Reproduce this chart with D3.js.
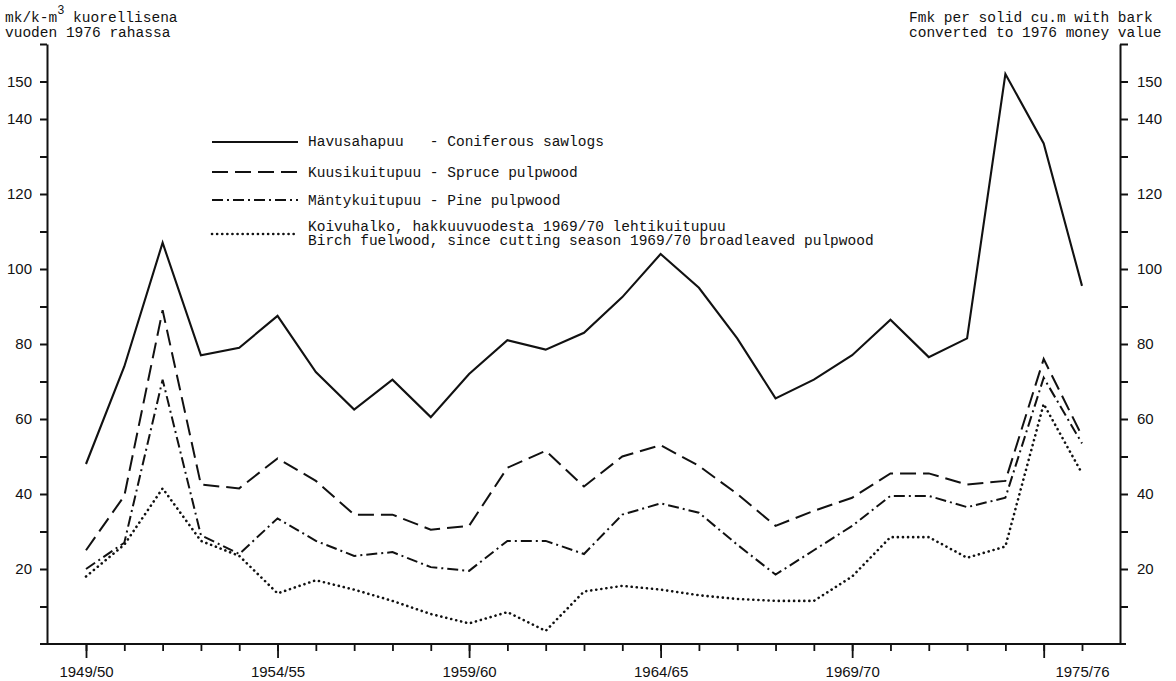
<!DOCTYPE html>
<html>
<head>
<meta charset="utf-8">
<script src="https://cdn.jsdelivr.net/npm/d3@7"></script>
<style>
body{margin:0;background:#fff;}
svg{display:block;background:#fff;}
.mono{font-family:"Liberation Mono","DejaVu Sans Mono",monospace;font-size:14.5px;fill:#111;white-space:pre;}
.axis text{font-family:"Liberation Sans",Arial,sans-serif;font-size:15px;fill:#111;}
.axis path,.axis line{stroke:#111;}
</style>
</head>
<body>
<svg id="chart"></svg>
<script>
// cutting seasons
var seasons = ["1949/50","1950/51","1951/52","1952/53","1953/54","1954/55","1955/56","1956/57","1957/58",
  "1958/59","1959/60","1960/61","1961/62","1962/63","1963/64","1964/65","1965/66","1966/67","1967/68",
  "1968/69","1969/70","1970/71","1971/72","1972/73","1973/74","1974/75","1975/76"];

// mk per k-m3 with bark, 1976 money
var sawlogs = [48, 74, 107, 77, 79, 87.5, 72.5, 62.5, 70.5, 60.5, 72, 81, 78.5, 83, 92.5, 104, 95, 81.5, 65.5, 70.5, 77, 86.5, 76.5, 81.5, 152, 133.5, 95.5];
var spruce  = [25, 39.5, 89, 42.5, 41.5, 49.5, 43.5, 34.5, 34.5, 30.5, 31.5, 47, 51.5, 42, 50, 53, 47.5, 40, 31.5, 35.5, 39, 45.5, 45.5, 42.5, 43.5, 76, 55.5];
var pine    = [20, 27, 70.5, 29, 24, 33.5, 27.5, 23.5, 24.5, 20.5, 19.5, 27.5, 27.5, 24, 34.5, 37.5, 35, 26.5, 18.5, 25, 31.5, 39.5, 39.5, 36.5, 39, 71, 53.5];
var birch   = [18, 26.5, 41.5, 27.5, 23.5, 13.5, 17, 14.5, 11.5, 8, 5.5, 8.5, 3.5, 14, 15.5, 14.5, 13, 12, 11.5, 11.5, 18, 28.5, 28.5, 23, 26, 64, 45.5];

var majorSeasons = ["1949/50","1954/55","1959/60","1964/65","1969/70","1974/75"];
var labelSeasons = ["1949/50","1954/55","1959/60","1964/65","1969/70","1975/76"];
var yTicks = [10,20,30,40,50,60,70,80,90,100,110,120,130,140,150,160];
var yLabels = [20,40,60,80,100,120,140,150];

var legendLabels = [
  ["Havusahapuu   - Coniferous sawlogs"],
  ["Kuusikuitupuu - Spruce pulpwood"],
  ["Mäntykuitupuu - Pine pulpwood"],
  ["Koivuhalko, hakkuuvuodesta 1969/70 lehtikuitupuu",
   "Birch fuelwood, since cutting season 1969/70 broadleaved pulpwood"]
];

var svgWidth = 1176, svgHeight = 681;

var svg = d3.select("#chart").attr("width", svgWidth).attr("height", svgHeight);

var x = d3.scalePoint().domain(seasons).range([86, 1082]);
var y = d3.scaleLinear().domain([0, 160]).range([644, 44]);

function fmt(d){ return yLabels.indexOf(d) >= 0 ? d : ""; }

// left axis
svg.append("g").attr("class","axis")
  .attr("transform","translate(47,0)")
  .call(d3.axisLeft(y).tickValues(yTicks).tickSize(7).tickSizeOuter(0).tickPadding(8).tickFormat(fmt))
  .call(function(g){ g.selectAll("path,line").attr("stroke-width",2); });

// right axis
svg.append("g").attr("class","axis")
  .attr("transform","translate(1120,0)")
  .call(d3.axisRight(y).tickValues(yTicks).tickSize(8).tickSizeOuter(0).tickPadding(9).tickFormat(fmt))
  .call(function(g){ g.selectAll("path,line").attr("stroke-width",2); });

// bottom axis: base line, minor ticks, major ticks, labels
svg.append("line")
  .attr("x1",40).attr("x2",1126).attr("y1",y(0)).attr("y2",y(0))
  .attr("stroke","#111").attr("stroke-width",2);

svg.append("g").attr("class","axis")
  .attr("transform","translate(0," + y(0) + ")")
  .call(d3.axisBottom(x).tickSize(7).tickSizeOuter(0).tickFormat(""))
  .call(function(g){ g.select(".domain").remove(); g.selectAll("line").attr("stroke-width",1.8); });

svg.append("g").attr("class","axis")
  .attr("transform","translate(0," + y(0) + ")")
  .call(d3.axisBottom(x).tickValues(majorSeasons).tickSize(14).tickSizeOuter(0).tickFormat(""))
  .call(function(g){ g.select(".domain").remove(); g.selectAll("line").attr("stroke-width",1.8); });

svg.append("g").attr("class","axis")
  .attr("transform","translate(0," + y(0) + ")")
  .call(d3.axisBottom(x).tickValues(labelSeasons).tickSize(0).tickPadding(22))
  .call(function(g){ g.select(".domain").remove(); g.selectAll("line").remove(); });

// series
var series = [
  {values: sawlogs, dash: null,          width: 2.1, cap: "butt"},
  {values: spruce,  dash: "16,7",        width: 2.0, cap: "butt"},
  {values: pine,    dash: "11,4,2,4",    width: 2.0, cap: "butt"},
  {values: birch,   dash: "0.1,5",       width: 2.6, cap: "round"}
];

var line = d3.line()
  .x(function(d,i){ return x(seasons[i]); })
  .y(function(d){ return y(d); });

svg.selectAll("path.series")
  .data(series)
  .enter()
  .append("path")
  .attr("class","series")
  .attr("d", function(d){ return line(d.values); })
  .attr("fill","none")
  .attr("stroke","#111")
  .attr("stroke-width", function(d){ return d.width; })
  .attr("stroke-dasharray", function(d){ return d.dash; })
  .attr("stroke-linecap", function(d){ return d.cap; })
  .attr("stroke-linejoin","miter");

// legend
var legendY = [142, 172, 200, 234];
var legendText = [[146],[177],[205],[231,245]];
var legend = svg.selectAll("g.legend")
  .data(series)
  .enter()
  .append("g")
  .attr("class","legend");

legend.append("line")
  .attr("x1",212).attr("x2",298)
  .attr("y1",function(d,i){ return legendY[i]; })
  .attr("y2",function(d,i){ return legendY[i]; })
  .attr("stroke","#111")
  .attr("stroke-width", function(d){ return d.width; })
  .attr("stroke-dasharray", function(d){ return d.dash; })
  .attr("stroke-linecap", function(d){ return d.cap; });

legend.each(function(d,i){
  var g = d3.select(this);
  legendLabels[i].forEach(function(t,j){
    g.append("text").attr("class","mono")
      .attr("x",308).attr("y",legendText[i][j])
      .text(t);
  });
});

// unit titles
var left = svg.append("text").attr("class","mono").attr("x",5).attr("y",22);
left.append("tspan").text("mk/k-m");
left.append("tspan").attr("dy",-8).style("font-size","12px").text("3");
left.append("tspan").attr("dy",8).text(" kuorellisena");
svg.append("text").attr("class","mono").attr("x",5).attr("y",37).text("vuoden 1976 rahassa");

svg.append("text").attr("class","mono").attr("x",909).attr("y",22).text("Fmk per solid cu.m with bark");
svg.append("text").attr("class","mono").attr("x",909).attr("y",37).text("converted to 1976 money value");
</script>
</body>
</html>
